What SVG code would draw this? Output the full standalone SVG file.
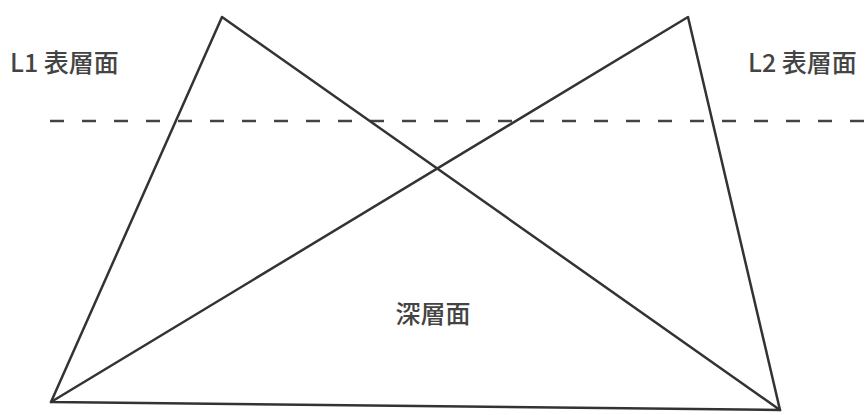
<svg xmlns="http://www.w3.org/2000/svg" width="866" height="415" viewBox="0 0 866 415">
<style>
.ln{stroke:#333;stroke-width:2.5;fill:none;stroke-linejoin:round;stroke-linecap:round}
.dash{stroke:#444;stroke-width:2.5;stroke-dasharray:14 18;fill:none}
.t{font-family:"Noto Sans CJK JP","Noto Sans",sans-serif;font-size:25px;font-weight:500;fill:#444}
</style>
<rect width="866" height="415" fill="#fff"/>
<g id="connectors">
<line class="dash" x1="50" y1="121" x2="866" y2="121"/>
<path class="ln" d="M51,402 L222,17 L780,410 Z"/>
<path class="ln" d="M51,402 L688,17 L780,410"/>
</g>
<g id="L1"><text class="t" x="10" y="72">L1 表層面</text></g>
<g id="L2"><text class="t" x="748" y="72">L2 表層面</text></g>
<g id="deep"><text class="t" x="433" y="323" text-anchor="middle">深層面</text></g>
</svg>
